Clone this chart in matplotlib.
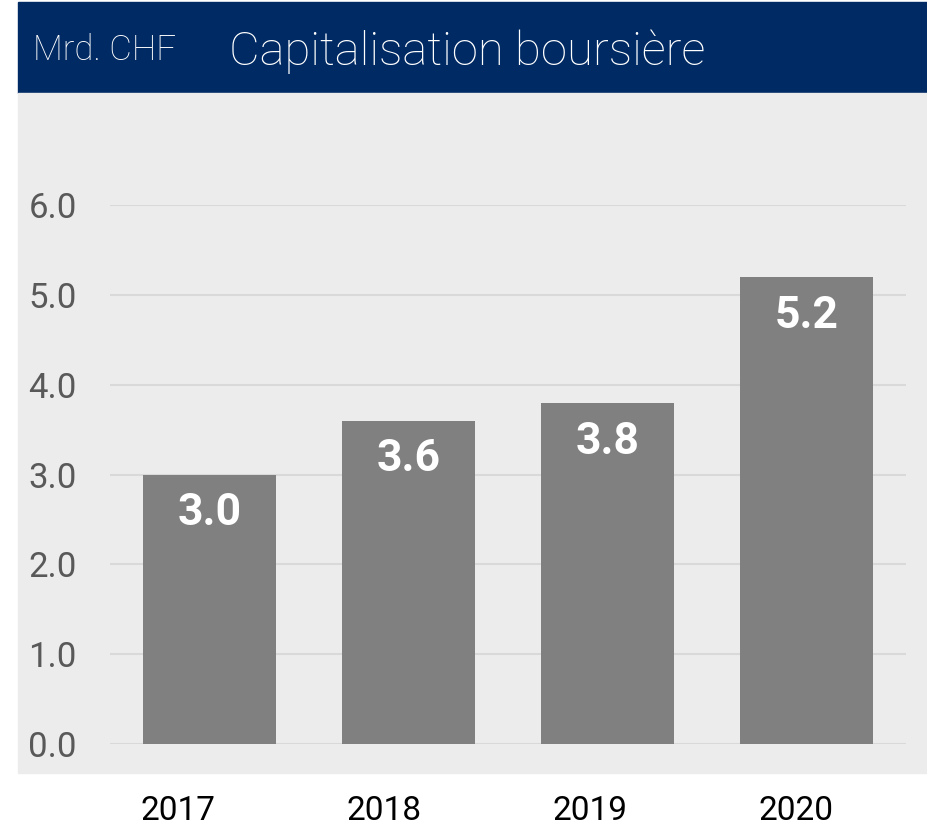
import matplotlib.pyplot as plt
from matplotlib.patches import Rectangle

plt.rcParams['font.family'] = ['Roboto', 'DejaVu Sans']

annees = ['2017', '2018', '2019', '2020']
valeurs = [3.0, 3.6, 3.8, 5.2]
graduations = [0, 1, 2, 3, 4, 5, 6]

W, H = 928, 833
fig = plt.figure(figsize=(W / 100, H / 100), dpi=100)

# bandeau titre + fond gris (derriere les axes)
fig.add_artist(Rectangle((18 / W, 1 - 93 / H), 1 - 18 / W, 91 / H,
                         transform=fig.transFigure, color='#002A64', zorder=-5))
fig.add_artist(Rectangle((18 / W, 1 - 773 / H), 1 - 18 / W, 680 / H,
                         transform=fig.transFigure, color='#ECECEC', zorder=-5))
fig.text(33 / W, 1 - 60 / H, 'Mrd. CHF', color='white', fontsize=25,
         va='baseline', fontweight='light')
fig.text(229 / W, 1 - 65 / H, 'Capitalisation boursière', color='white',
         fontsize=34, va='baseline', fontweight='light')

ax = fig.add_axes([110 / W, 1 - 744 / H, 796 / W, 539 / H])
ax.patch.set_alpha(0)
x = list(range(len(annees)))
barres = ax.bar(x, valeurs, width=0.665, color='#808080', zorder=2)
for b, v in zip(barres, valeurs):
    ax.annotate(f'{v:.1f}', (b.get_x() + b.get_width() / 2, v),
                xytext=(0, -28), textcoords='offset points',
                ha='center', va='center', color='white', fontsize=32,
                fontweight='bold')

ax.set_xlim(-0.5, 3.5)
ax.set_ylim(0, 6)
ax.set_yticks(graduations)
ax.set_yticklabels([f'{g:.1f}' for g in graduations])
ax.set_xticks([])
ax.grid(axis='y', color='#D9D9D9', linewidth=1.5, zorder=1)
for s in ax.spines.values():
    s.set_visible(False)
ax.tick_params(axis='y', length=0, pad=24, labelsize=25, labelcolor='#595959')

# ligne des annees (un peu decalee par rapport aux barres, comme l'original)
ax2 = fig.add_axes([75 / W, 1 - 744 / H, 824 / W, 539 / H])
ax2.patch.set_alpha(0)
ax2.set_xlim(-0.5, 3.5)
ax2.set_yticks([])
ax2.set_xticks(x)
ax2.set_xticklabels(annees)
for s in ax2.spines.values():
    s.set_visible(False)
ax2.tick_params(axis='x', length=0, pad=37, labelsize=24, labelcolor='black')

fig.savefig('out.png', dpi=100)
